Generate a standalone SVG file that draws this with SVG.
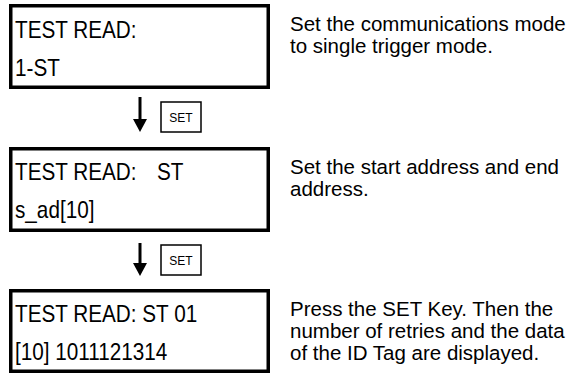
<svg xmlns="http://www.w3.org/2000/svg" width="580" height="373" viewBox="0 0 580 373">
<style>
.lcd{fill:#fff;stroke:#000;stroke-width:3.5}
.lt{font-family:"Liberation Sans",Arial,sans-serif;font-size:24px;fill:#000}
.desc{font-family:"Liberation Sans",Arial,sans-serif;font-size:20.5px;fill:#000}
.key{fill:#fff;stroke:#000;stroke-width:1.5}
.kt{font-family:"Liberation Sans",Arial,sans-serif;font-size:12px;fill:#000;text-anchor:middle}
.shaft{stroke:#000;stroke-width:3;fill:none}
</style>
<rect width="580" height="373" fill="#fff"/>
<g id="lcd1">
<rect class="lcd" x="10.75" y="5.75" width="257.5" height="81.5"/>
<text class="lt" transform="translate(15,38) scale(0.863,1)">TEST READ:</text>
<text class="lt" transform="translate(15,76) scale(0.863,1)">1-ST</text>
</g>
<g id="desc1">
<text class="desc" x="290" y="31">Set the communications mode</text>
<text class="desc" x="290" y="53">to single trigger mode.</text>
</g>
<g id="key1">
<rect class="key" x="161" y="102" width="40" height="30"/>
<text class="kt" x="181" y="122">SET</text>
</g>
<g id="lcd2">
<rect class="lcd" x="10.75" y="148.75" width="257.5" height="81.5"/>
<text class="lt" transform="translate(15,180) scale(0.863,1)">TEST READ: <tspan x="164.5">ST</tspan></text>
<text class="lt" transform="translate(15,218) scale(0.863,1)">s_ad[10]</text>
</g>
<g id="desc2">
<text class="desc" x="290" y="174">Set the start address and end</text>
<text class="desc" x="290" y="196">address.</text>
</g>
<g id="key2">
<rect class="key" x="161" y="245" width="40" height="30"/>
<text class="kt" x="181" y="265">SET</text>
</g>
<g id="lcd3">
<rect class="lcd" x="10.75" y="290.75" width="257.5" height="80.5"/>
<text class="lt" transform="translate(15,322) scale(0.863,1)">TEST READ: ST 01</text>
<text class="lt" transform="translate(15,360) scale(0.863,1)">[10] 1011121314</text>
</g>
<g id="desc3">
<text class="desc" x="290" y="316">Press the SET Key. Then the</text>
<text class="desc" x="290" y="338">number of retries and the data</text>
<text class="desc" x="290" y="360">of the ID Tag are displayed.</text>
</g>
<g id="connectors">
<line class="shaft" x1="140" y1="97" x2="140" y2="121"/>
<polygon points="133,119 147,119 140,132" fill="#000"/>
<line class="shaft" x1="140" y1="243" x2="140" y2="265"/>
<polygon points="133,263 147,263 140,276" fill="#000"/>
</g>
</svg>
